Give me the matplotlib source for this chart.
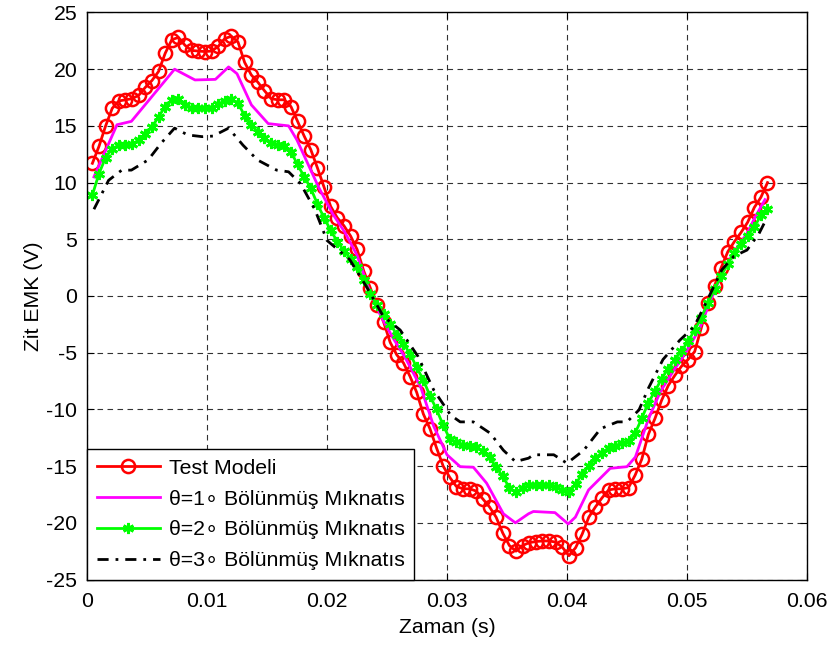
import numpy as np
import matplotlib
matplotlib.use("Agg")
import matplotlib.pyplot as plt

plt.rcParams['font.family'] = ['Liberation Sans', 'DejaVu Sans']
plt.rcParams['axes.unicode_minus'] = False

# ---- data (time in ms, EMF in V) ----
t_start_ms, t_end_ms, n_samples = 0.45, 56.71, 103   # uniform sample times of the marked series

test_model = [11.7, 13.2, 15.0, 16.55, 17.2, 17.3, 17.4, 17.7, 18.4, 19.0,
              19.8, 21.4, 22.6, 22.8, 22.1, 21.65, 21.6, 21.55, 21.6, 22.0,
              22.7, 22.9, 22.4, 20.6, 19.5, 18.85, 18.1, 17.4, 17.3, 17.3,
              16.7, 15.4, 14.1, 12.9, 11.3, 9.6, 7.9, 6.9, 6.2, 5.3,
              4.1, 2.2, 0.7, -0.8, -2.3, -4.1, -5.2, -5.9, -7.1, -8.5,
              -10.4, -11.7, -13.4, -15.0, -16.0, -16.8, -17.0, -17.0, -17.2, -17.9,
              -18.6, -19.5, -20.9, -22.0, -22.5, -22.0, -21.75, -21.65, -21.6, -21.6,
              -21.7, -22.15, -22.9, -22.2, -21.0, -19.5, -18.6, -17.8, -17.1, -17.0,
              -17.0, -16.9, -15.8, -14.4, -12.2, -10.8, -9.2, -7.9, -7.0, -6.2,
              -5.6, -4.9, -2.8, -0.6, 0.9, 2.5, 3.9, 4.8, 5.6, 6.5,
              7.8, 8.7, 10.0]

theta2 = [8.9, 10.8, 12.2, 13.0, 13.3, 13.3, 13.4, 13.75, 14.3, 14.9,
          15.8, 16.7, 17.3, 17.4, 16.8, 16.6, 16.55, 16.55, 16.55, 16.9,
          17.2, 17.35, 17.0, 15.9, 15.1, 14.45, 13.9, 13.45, 13.3, 13.2,
          12.7, 11.6, 10.5, 9.5, 8.1, 6.9, 5.8, 4.8, 4.0, 3.3,
          2.6, 1.4, 0.2, -0.8, -1.6, -2.5, -3.4, -4.2, -5.1, -6.3,
          -7.4, -8.8, -10.0, -11.4, -12.6, -12.9, -13.1, -13.2, -13.3, -13.7,
          -14.2, -15.1, -15.9, -16.9, -17.3, -16.9, -16.7, -16.7, -16.7, -16.7,
          -16.8, -17.1, -17.3, -16.6, -15.7, -15.0, -14.3, -13.8, -13.4, -13.2,
          -13.0, -12.8, -12.1, -10.8, -9.4, -8.4, -7.3, -6.4, -5.6, -4.85,
          -4.0, -3.0, -1.9, -0.6, 0.6, 1.8, 2.8, 3.8, 4.55, 5.3,
          6.1, 7.1, 7.7]

theta1_t_ms = [0.58, 2.5, 3.7, 7.3, 9.0, 10.7, 11.8, 12.5, 13.7, 15.1, 16.8, 17.5, 19.3,
               20.5, 21.5, 22.5, 23.5, 24.5, 25.5, 26.5, 27.8, 28.9, 30.0, 31.1, 32.2,
               33.3, 34.7, 35.7, 36.8, 37.2, 39.0, 40.1, 40.7, 41.8, 43.6, 45.0, 45.7,
               46.8, 47.8, 49.0, 50.0, 51.0, 52.0, 53.0, 54.0, 55.0, 55.7, 56.5]
theta1 = [10.5, 15.1, 15.4, 20.0, 19.05, 19.1, 20.2, 19.6, 16.85, 15.2, 15.0, 13.75, 9.6,
          7.2, 5.6, 3.6, 0.6, -1.8, -3.7, -5.4, -8.0, -11.5, -14.0, -15.05, -15.1,
          -16.5, -19.2, -20.0, -19.2, -19.0, -19.1, -20.1, -19.5, -17.1, -15.2, -15.05, -14.2,
          -10.8, -8.4, -6.4, -4.8, -3.0, -0.3, 2.2, 4.0, 5.5, 7.0, 8.5]

theta3_t_ms = [0.58, 1.8, 2.9, 3.7, 5.1, 6.2, 7.3, 8.4, 9.6, 10.5, 11.8, 13.0, 14.2,
               15.8, 16.8, 17.8, 19.0, 20.0, 21.9, 23.3, 24.7, 26.1, 27.6, 28.1, 28.9,
               30.3, 31.1, 32.2, 33.6, 34.7, 35.7, 36.8, 37.2, 38.9, 40.0, 41.4, 42.8,
               44.2, 45.0, 46.0, 46.8, 48.0, 49.4, 50.6, 51.7, 52.9, 53.9, 55.0, 56.0, 56.5]
theta3 = [7.65, 10.2, 11.1, 11.1, 12.0, 13.5, 14.8, 14.2, 14.05, 14.1, 14.8, 13.3, 12.0,
          11.1, 10.95, 9.9, 7.6, 4.9, 3.2, 0.8, -1.8, -3.0, -5.35, -6.5, -8.3,
          -10.5, -11.1, -11.1, -12.1, -13.6, -14.6, -14.3, -14.0, -14.0, -14.75, -13.6, -11.7,
          -11.1, -11.1, -10.05, -8.1, -5.6, -3.9, -2.7, -0.35, 2.3, 3.5, 4.05, 5.5, 6.55]

labels = ["Test Modeli",
          "\u03b8=1\u2218 Bölünmüş Mıknatıs",
          "\u03b8=2\u2218 Bölünmüş Mıknatıs",
          "\u03b8=3\u2218 Bölünmüş Mıknatıs"]
xticks = [0, 0.01, 0.02, 0.03, 0.04, 0.05, 0.06]
xticklabels = ["0", "0.01", "0.02", "0.03", "0.04", "0.05", "0.06"]
yticks = list(range(-25, 30, 5))

# ---- figure ----
FS = 15.3
t_s = np.linspace(t_start_ms, t_end_ms, n_samples) * 1e-3
fig = plt.figure(figsize=(8.34, 6.46), dpi=100)
ax = fig.add_axes([0.1043, 0.1029, 0.8633, 0.8778])

ax.plot(t_s, test_model, color='#ff0000', lw=2, marker='o', ms=9.5,
        mfc='none', mec='#ff0000', mew=1.8, label=labels[0])
ax.plot(np.array(theta1_t_ms) * 1e-3, theta1, color='#ff00ff', lw=2, label=labels[1])
ax.plot(t_s, theta2, color='#00ff00', lw=2, marker=(6, 2, 0), ms=8, mew=2,
        mec='#00ff00', label=labels[2])
ax.plot(np.array(theta3_t_ms) * 1e-3, theta3, color='black', lw=2,
        linestyle=(0, (4, 2.5, 1, 2.5)), label=labels[3])

ax.set_xlim(0, 0.06)
ax.set_ylim(-25, 25)
ax.set_xticks(xticks)
ax.set_xticklabels(xticklabels)
ax.set_yticks(yticks)
ax.tick_params(direction='in', top=True, right=True, length=5, width=0.8,
               labelsize=FS)
ax.tick_params(axis='x', pad=9)
ax.tick_params(axis='y', pad=7)
ax.grid(True, color='#333333', linestyle=(0, (5, 4)), linewidth=0.8)
for s in ax.spines.values():
    s.set_linewidth(1.0)

ax.set_xlabel("Zaman (s)", fontsize=FS, labelpad=5)
ax.set_ylabel("Zit EMK (V)", fontsize=FS, labelpad=2.5)

leg = ax.legend(loc='lower left', bbox_to_anchor=(0, 0), borderaxespad=0,
                fontsize=FS, fancybox=False, framealpha=1, edgecolor='black',
                handlelength=3.0, handletextpad=0.4, labelspacing=0.55,
                borderpad=0.45)
leg.get_frame().set_linewidth(1.0)

fig.savefig("out.png", dpi=100)
